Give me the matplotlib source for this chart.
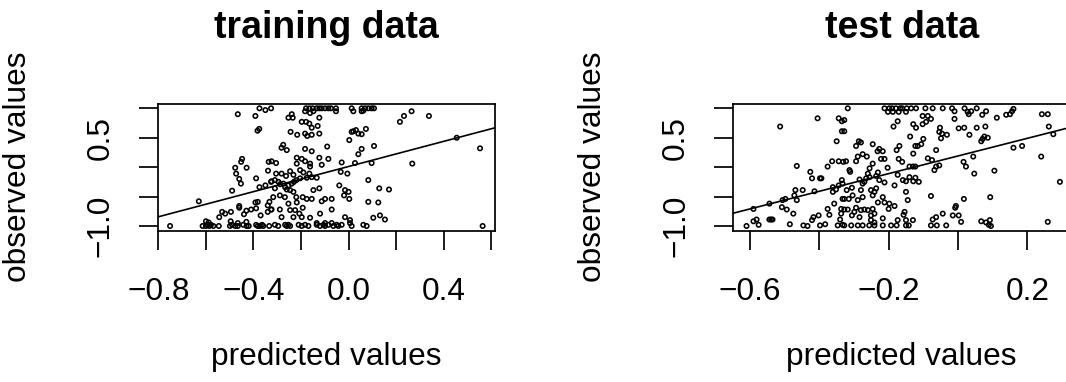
import matplotlib
matplotlib.use("Agg")
import matplotlib.pyplot as plt
from matplotlib.transforms import blended_transform_factory

plt.rcParams["font.family"] = ["Liberation Sans", "DejaVu Sans"]

# ---- training data: predicted vs observed ----
train_pred = [
    -0.751, -0.630, -0.466, -0.392, -0.375, -0.350, -0.326, -0.383, -0.376, -0.448,
    -0.452, -0.477, -0.429, -0.473, -0.460, -0.453, -0.490, -0.389, -0.375, -0.336,
    -0.339, -0.350, -0.326, -0.532, -0.519, -0.495, -0.544, -0.460, -0.460, -0.440,
    -0.430, -0.410, -0.392, -0.382, -0.389, -0.340, -0.333, -0.370, -0.340, -0.326,
    -0.614, -0.600, -0.593, -0.586, -0.579, -0.569, -0.546, -0.499, -0.490, -0.477,
    -0.466, -0.443, -0.429, -0.420, -0.389, -0.382, -0.373, -0.364, -0.359, -0.334,
    -0.600, -0.589, -0.496, -0.466, -0.430,
    -0.179, -0.165, -0.151, -0.134, -0.123, -0.113, -0.099, -0.085, -0.074, -0.053,
    0.013, 0.055, 0.069, 0.083, 0.097, 0.107,
    -0.183, -0.148, -0.053, 0.020, 0.055, 0.062,
    -0.239, -0.253, -0.235, -0.162, -0.123, -0.197, -0.179, -0.165, -0.155, -0.130,
    -0.244, -0.216, -0.183, -0.174, -0.155, -0.123,
    0.020, 0.013, 0.041, 0.055, 0.073, 0.031, 0.003,
    -0.275, -0.282, -0.260, -0.183, -0.155, -0.090, 0.055, 0.107, 0.041,
    -0.123, -0.085, -0.218, -0.197, -0.183, -0.218, -0.162, -0.162, -0.113,
    -0.324, -0.305, -0.029, -0.033, -0.005, 0.027, 0.097,
    -0.246, -0.204, -0.190, -0.165, -0.305, -0.282, -0.263, -0.232,
    -0.204, -0.176, -0.155, -0.134,
    -0.324, -0.310, -0.295, -0.288, -0.274, -0.267, -0.260, -0.253, -0.239, -0.230,
    -0.220, -0.246, -0.232, -0.310,
    -0.039, 0.083, -0.148, -0.123, -0.015, 0.000, -0.019, 0.129,
    -0.317, -0.289, -0.268, -0.220, -0.193, -0.176, -0.155, -0.113, -0.099, -0.071,
    0.003, 0.083, 0.125, -0.253, -0.218, -0.193,
    -0.324, -0.289, -0.246, -0.225, -0.207, -0.071, -0.120,
    -0.282, -0.232, -0.197, -0.162, -0.015, 0.006, 0.104, 0.132, 0.153,
    -0.310, -0.296, -0.267, -0.260, -0.253, -0.246, -0.210, -0.197, -0.183, -0.169,
    -0.134, -0.120, -0.106, -0.099, -0.085, -0.064, -0.050, -0.043, -0.029, 0.013,
    0.062, 0.076,
    -0.134, -0.099, -0.071, 0.006,
    0.216, 0.233, 0.265, 0.338, 0.455, 0.553, 0.268, 0.170, 0.564,
]
train_obs = [
    -1.00, -0.58, 0.90, 0.87, 1.00, 0.97, 1.00, 0.62, 0.65, 0.14,
    0.09, -0.01, -0.01, -0.11, -0.20, -0.28, -0.40, -0.19, -0.34, 0.09,
    -0.06, -0.31, -0.25, -0.76, -0.79, -0.76, -0.85, -0.69, -0.66, -0.80,
    -0.74, -0.72, -0.60, -0.59, -0.70, -0.65, -0.59, -0.82, -0.76, -0.72,
    -1.00, -1.00, -0.98, -1.00, -0.98, -1.00, -1.00, -1.00, -0.98, -1.00,
    -1.00, -0.98, -1.00, -1.00, -0.98, -1.00, -1.00, -0.98, -1.00, -1.00,
    -0.92, -0.94, -0.92, -0.95, -0.93,
    1.00, 1.00, 1.00, 1.00, 1.00, 1.00, 1.00, 1.00, 1.00, 1.00,
    1.00, 1.00, 1.00, 1.00, 1.00, 1.00,
    0.95, 0.95, 0.95, 0.95, 0.95, 0.96,
    0.90, 0.84, 0.84, 0.92, 0.84, 0.77, 0.77, 0.74, 0.67, 0.70,
    0.60, 0.55, 0.57, 0.53, 0.55, 0.57,
    0.61, 0.60, 0.57, 0.56, 0.65, 0.63, 0.46,
    0.38, 0.33, 0.29, 0.31, 0.27, 0.35, 0.31, 0.36, 0.22,
    0.16, 0.14, 0.16, 0.14, 0.10, 0.06, 0.06, 0.01, 0.04,
    0.10, 0.07, 0.08, -0.08, -0.11, 0.07, 0.07,
    -0.07, -0.05, -0.09, -0.11, -0.11, -0.11, -0.15, -0.13,
    -0.19, -0.18, -0.17, -0.18,
    -0.24, -0.22, -0.25, -0.29, -0.28, -0.34, -0.38, -0.31, -0.28, -0.25,
    -0.22, -0.39, -0.42, -0.36,
    -0.31, -0.22, -0.39, -0.36, -0.39, -0.42, -0.48, -0.36,
    -0.51, -0.48, -0.51, -0.51, -0.51, -0.54, -0.54, -0.58, -0.54, -0.54,
    -0.54, -0.59, -0.60, -0.62, -0.60, -0.69,
    -0.72, -0.72, -0.73, -0.73, -0.79, -0.72, -0.79,
    -0.85, -0.85, -0.85, -0.86, -0.85, -0.90, -0.86, -0.82, -0.89,
    -0.98, -1.00, -0.98, -1.00, -0.98, -1.00, -0.98, -1.00, -0.98, -1.00,
    -0.98, -1.00, -0.98, -1.00, -0.98, -1.00, -0.98, -1.00, -0.98, -1.00,
    -0.98, -1.00,
    -0.95, -0.95, -0.95, -0.95,
    0.77, 0.87, 0.95, 0.87, 0.50, 0.32, 0.06, -0.38, -1.00,
]

# ---- test data: predicted vs observed ----
test_pred = [
    -0.610, -0.590, -0.581, -0.575, -0.544, -0.539, -0.535, -0.485, -0.446, -0.434,
    -0.421, -0.417, -0.398, -0.383, -0.402, -0.376, -0.371, -0.347, -0.340, -0.333,
    -0.337, -0.590, -0.544, -0.508, -0.494, -0.506, -0.498, -0.475, -0.472, -0.469,
    -0.465, -0.448, -0.414, -0.426, -0.421, -0.398, -0.394, -0.465, -0.376, -0.513,
    -0.405, -0.344, -0.335, -0.335, -0.350, -0.363, -0.344, -0.331,
    -0.361, -0.352, -0.344, -0.335, -0.333, -0.357, -0.333, -0.337, -0.361,
    -0.318, -0.212, -0.198, -0.190, -0.179, -0.167, -0.161, -0.148, -0.135, -0.121,
    -0.094, -0.073, -0.044, -0.017,
    -0.202, -0.188, -0.171, -0.150, -0.102, -0.087,
    -0.328, -0.328, -0.174, -0.186, -0.129, -0.121, -0.102, -0.092, -0.078,
    -0.052, -0.054, -0.046, -0.032, -0.049,
    -0.294, -0.286, -0.280, -0.246, -0.232, -0.227, -0.217, -0.177, -0.169, -0.138,
    -0.123, -0.116, -0.106, -0.100, -0.129, -0.063,
    -0.275, -0.289, -0.294, -0.323, -0.313, -0.311, -0.263, -0.246, -0.222, -0.212,
    -0.203, -0.231, -0.171, -0.161, -0.140, -0.130, -0.123,
    -0.087, -0.075, -0.063, -0.054, -0.068,
    -0.255, -0.260, -0.265, -0.270, -0.255, -0.284, -0.275, -0.236, -0.227, -0.212,
    -0.183, -0.174, -0.159, -0.150, -0.140, -0.129, -0.123, -0.113,
    -0.321, -0.306, -0.304, -0.315, -0.328, -0.280, -0.275, -0.289,
    -0.251, -0.241, -0.236, -0.246, -0.217, -0.231, -0.212, -0.198, -0.183, -0.200,
    -0.150, -0.145, -0.078,
    -0.328, -0.318, -0.294, -0.299, -0.280, -0.270, -0.260, -0.246,
    -0.306, -0.284, -0.251, -0.241, -0.154, -0.157, -0.044, -0.015,
    -0.251, -0.241, -0.217, -0.174, -0.150, -0.130, -0.073, -0.063,
    -0.328, -0.308, -0.289, -0.275, -0.256, -0.241, -0.217, -0.193, -0.177, -0.150,
    -0.142, -0.078, -0.061, -0.034,
    -0.010, 0.019, 0.028, 0.031, 0.038, 0.054, 0.070, 0.081, 0.112, 0.139,
    0.150, 0.156, 0.160, 0.242, 0.259,
    -0.010, 0.002, 0.018, 0.054, 0.079, 0.033, 0.067, 0.071, 0.076, 0.086,
    0.262, 0.275, 0.160, 0.185, 0.240, 0.044, 0.016, 0.023, 0.047, 0.105,
    0.294, 0.017, 0.093, -0.006, -0.008, 0.002, 0.009,
    0.067, 0.081, 0.092, 0.095, 0.089, 0.259,
]
test_obs = [
    -1.00, -0.92, -0.89, -0.98, -0.89, -0.89, -0.89, -0.97, -0.99, -1.00,
    -0.90, -0.85, -0.99, -0.97, -0.82, -0.71, -0.81, -0.99, -0.89, -0.98,
    -0.79, -0.71, -0.62, -0.68, -0.72, -0.56, -0.54, -0.79, -0.48, -0.39,
    -0.56, -0.39, -0.41, -0.08, -0.19, -0.19, -0.19, 0.02, 0.01, 0.69,
    0.83, 0.83, 0.78, 0.61, 0.44, 0.10, 0.10, 0.09,
    -0.42, -0.38, -0.31, -0.22, -0.28, -0.62, -0.54, -0.71, -0.34,
    1.00, 1.00, 1.00, 1.00, 1.00, 1.00, 1.00, 1.00, 1.00, 1.00,
    1.00, 1.00, 1.00, 1.00,
    0.94, 0.94, 0.94, 0.94, 0.87, 0.87,
    0.80, 0.61, 0.78, 0.69, 0.73, 0.67, 0.73, 0.77, 0.82,
    0.67, 0.60, 0.57, 0.55, 0.49,
    0.36, 0.44, 0.42, 0.39, 0.27, 0.31, 0.27, 0.29, 0.36, 0.52,
    0.36, 0.36, 0.39, 0.48, 0.23, 0.29,
    0.22, 0.18, 0.10, 0.10, -0.05, -0.08, 0.18, 0.06, 0.14, 0.14,
    -0.01, -0.09, 0.14, 0.09, 0.01, 0.01, 0.01,
    0.15, 0.12, 0.01, 0.03, -0.05,
    -0.02, -0.11, -0.19, -0.25, -0.17, -0.21, -0.28, -0.15, -0.22, -0.26,
    -0.31, -0.13, -0.22, -0.24, -0.17, -0.24, -0.18, -0.25,
    -0.39, -0.35, -0.48, -0.54, -0.54, -0.39, -0.51, -0.56,
    -0.39, -0.42, -0.36, -0.48, -0.51, -0.60, -0.60, -0.62, -0.66, -0.71,
    -0.42, -0.56, -0.49,
    -0.72, -0.72, -0.69, -0.76, -0.73, -0.72, -0.73, -0.71,
    -0.82, -0.85, -0.82, -0.79, -0.76, -0.81, -0.79, -0.82,
    -0.90, -0.94, -0.87, -0.90, -0.90, -0.90, -0.89, -0.85,
    -0.99, -0.99, -0.99, -0.99, -0.99, -0.99, -0.99, -0.99, -0.99, -0.99,
    -0.99, -0.99, -0.99, -0.99,
    0.95, 1.00, 0.94, 0.90, 0.95, 1.00, 0.89, 0.95, 0.84, 0.89,
    0.90, 0.95, 0.99, 0.90, 0.90,
    0.82, 0.66, 0.67, 0.67, 0.69, 0.55, 0.44, 0.48, 0.52, 0.50,
    0.69, 0.56, 0.33, 0.36, 0.18, 0.18, 0.09, 0.01, -0.11, -0.06,
    -0.25, -0.54, -0.51, -0.66, -0.69, -0.82, -0.93,
    -0.92, -0.94, -0.90, -1.00, -0.98, -0.93,
]

# least-squares lines (intercept, slope)
train_fit = (0.011, 1.068)
test_fit = (0.19, 1.50)

y_ticks = [-1.0, -0.5, 0.0, 0.5, 1.0]
y_ticklabels = {-1.0: "\u22121.0", 0.5: "0.5"}
train_xticks = [-0.8, -0.6, -0.4, -0.2, 0.0, 0.2, 0.4, 0.6]
train_xticklabels = {-0.8: "\u22120.8", -0.4: "\u22120.4", 0.0: "0.0", 0.4: "0.4"}
test_xticks = [-0.6, -0.4, -0.2, 0.0, 0.2]
test_xticklabels = {-0.6: "\u22120.6", -0.2: "\u22120.2", 0.2: "0.2"}

W, H = 1066, 382
fig = plt.figure(figsize=(W / 100, H / 100), dpi=100)

FS = 22.75
TFS = 27


def panel(left_px, xlim, pred, obs, fit, xticks, xlabels, title):
    bottom_px, top_px = 230.7, 103.6
    width_px = 337.3
    ax = fig.add_axes([left_px / W, 1 - bottom_px / H, width_px / W, (bottom_px - top_px) / H])
    ax.set_xlim(*xlim)
    ax.set_ylim(-1.08, 1.08)
    ax.scatter(pred, obs, s=10, facecolors="none", edgecolors="black", linewidths=1.15, zorder=3)
    ax.axline((0, fit[0]), slope=fit[1], color="black", lw=1.2, zorder=2)
    for sp in ax.spines.values():
        sp.set_linewidth(1.25)
    ax.set_xticks(xticks)
    ax.set_yticks(y_ticks)
    ax.tick_params(direction="out", length=13.7, width=1.25, labelbottom=False, labelleft=False)

    # tick labels
    tx = blended_transform_factory(ax.transData, fig.transFigure)
    for v, s in xlabels.items():
        ax.text(v, 1 - 300 / H, s, transform=tx, ha="center", va="baseline", fontsize=FS)
    ty = blended_transform_factory(fig.transFigure, ax.transData)
    for v, s in y_ticklabels.items():
        ax.text((left_px - 57) / W, v, s, transform=ty, ha="center", va="center",
                rotation=90, fontsize=FS)

    cx = (left_px + width_px / 2) / W
    fig.text(cx, 1 - 38 / H, title, ha="center", va="baseline", fontsize=TFS, fontweight="bold")
    fig.text(cx, 1 - 365 / H, "predicted values", ha="center", va="baseline", fontsize=FS)
    fig.text((left_px - 140) / W, 1 - 167 / H, "observed values", ha="center", va="center",
             rotation=90, fontsize=FS)
    return ax


panel(157.7, (-0.803, 0.616), train_pred, train_obs, train_fit,
      train_xticks, train_xticklabels, "training data")
panel(733.0, (-0.649, 0.324), test_pred, test_obs, test_fit,
      test_xticks, test_xticklabels, "test data")

fig.savefig("out.png", dpi=100, facecolor="white")
